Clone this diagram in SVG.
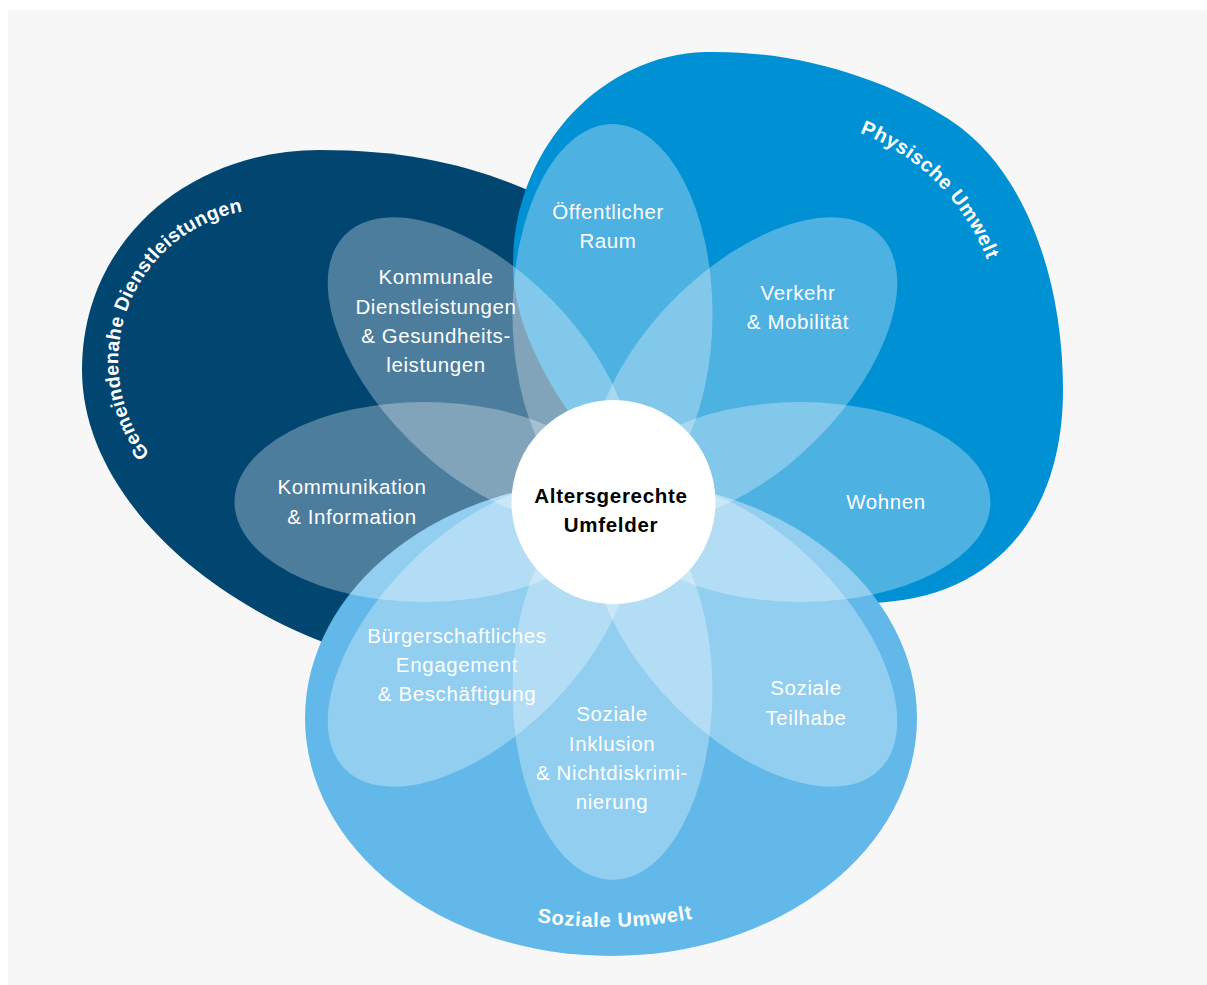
<svg xmlns="http://www.w3.org/2000/svg" width="1207" height="985" viewBox="0 0 1207 985">
<style>
.lbl{font-family:"Liberation Sans",Arial,sans-serif;font-size:20.5px;fill:#fff;text-anchor:middle;letter-spacing:0.6px}
.ctr{font-family:"Liberation Sans",Arial,sans-serif;font-size:20.5px;font-weight:bold;fill:#000;text-anchor:middle;letter-spacing:0.7px}
.arc{font-family:"Liberation Sans",Arial,sans-serif;font-size:19.5px;font-weight:bold;fill:#fff;letter-spacing:0.3px}
.petal{fill:#fff;fill-opacity:0.3}
</style>
<defs>
<ellipse id="pe" cx="188" cy="0" rx="190" ry="100"/>
<path id="p-gd" d="M 203.4,497.6 A 152 152 0 0 1 311.9,214.9"/>
<path id="p-pu" d="M 818.5,121.4 A 222 222 0 0 1 998.6,301.5"/>
<path id="p-su" d="M 505,916.2 A 470 470 0 0 0 725,911.4"/>
</defs>
<rect width="1207" height="985" fill="#fff"/>
<rect x="8" y="10" width="1199" height="975" fill="#f7f7f7"/>

<g id="gemeindenahe">
<path d="M 340,648 C 200,600 82,490 82,370 C 82,240 190,150 320,150 C 420,150 490,170 560,205 L 620,420 L 620,600 Z" fill="#004671"/>
<text class="arc"><textPath href="#p-gd" startOffset="50%" text-anchor="middle">Gemeindenahe Dienstleistungen</textPath></text>
</g>
<g id="physische">
<path d="M 600,450 C 570,420 515,340 513,270 C 511,150 600,55 705,52 C 790,50 880,75 950,120 C 1020,165 1063,270 1063,390 C 1063,520 990,600 870,603 L 700,560 Z" fill="#0090d4"/>
<text class="arc" style="font-size:20px;letter-spacing:0.6px"><textPath href="#p-pu" startOffset="50%" text-anchor="middle">Physische Umwelt</textPath></text>
</g>
<g id="soziale">
<ellipse cx="611" cy="718" rx="306" ry="238" fill="#62b9e9"/>
<text class="arc" style="font-size:20px;letter-spacing:0.8px"><textPath href="#p-su" startOffset="50%" text-anchor="middle">Soziale Umwelt</textPath></text>
</g>

<g id="petal-raum">
<use href="#pe" class="petal" transform="translate(612.5,502) rotate(-90)"/>
<text class="lbl" x="608" y="219">Öffentlicher</text>
<text class="lbl" x="608" y="248">Raum</text>
</g>
<g id="petal-verkehr">
<use href="#pe" class="petal" transform="translate(612.5,502) rotate(-45)"/>
<text class="lbl" x="798" y="300">Verkehr</text>
<text class="lbl" x="798" y="329">&amp; Mobilität</text>
</g>
<g id="petal-wohnen">
<use href="#pe" class="petal" transform="translate(612.5,502) rotate(0)"/>
<text class="lbl" x="886" y="509">Wohnen</text>
</g>
<g id="petal-teilhabe">
<use href="#pe" class="petal" transform="translate(612.5,502) rotate(45)"/>
<text class="lbl" x="806" y="695">Soziale</text>
<text class="lbl" x="806" y="725">Teilhabe</text>
</g>
<g id="petal-inklusion">
<use href="#pe" class="petal" transform="translate(612.5,502) rotate(90)"/>
<text class="lbl" x="612" y="721">Soziale</text>
<text class="lbl" x="612" y="750.5">Inklusion</text>
<text class="lbl" x="612" y="780">&amp; Nichtdiskrimi-</text>
<text class="lbl" x="612" y="809">nierung</text>
</g>
<g id="petal-engagement">
<use href="#pe" class="petal" transform="translate(612.5,502) rotate(135)"/>
<text class="lbl" x="457" y="643">Bürgerschaftliches</text>
<text class="lbl" x="457" y="672">Engagement</text>
<text class="lbl" x="457" y="700.5">&amp; Beschäftigung</text>
</g>
<g id="petal-kommunikation">
<use href="#pe" class="petal" transform="translate(612.5,502) rotate(180)"/>
<text class="lbl" x="352" y="494">Kommunikation</text>
<text class="lbl" x="352" y="524">&amp; Information</text>
</g>
<g id="petal-kommunale">
<use href="#pe" class="petal" transform="translate(612.5,502) rotate(-135)"/>
<text class="lbl" x="436" y="284">Kommunale</text>
<text class="lbl" x="436" y="313.5">Dienstleistungen</text>
<text class="lbl" x="436" y="343">&amp; Gesundheits-</text>
<text class="lbl" x="436" y="372">leistungen</text>
</g>

<g id="center">
<circle cx="613.5" cy="502" r="102" fill="#fff"/>
<text class="ctr" x="611" y="502.5">Altersgerechte</text>
<text class="ctr" x="611" y="532">Umfelder</text>
</g>
<g id="connectors"/>
</svg>
